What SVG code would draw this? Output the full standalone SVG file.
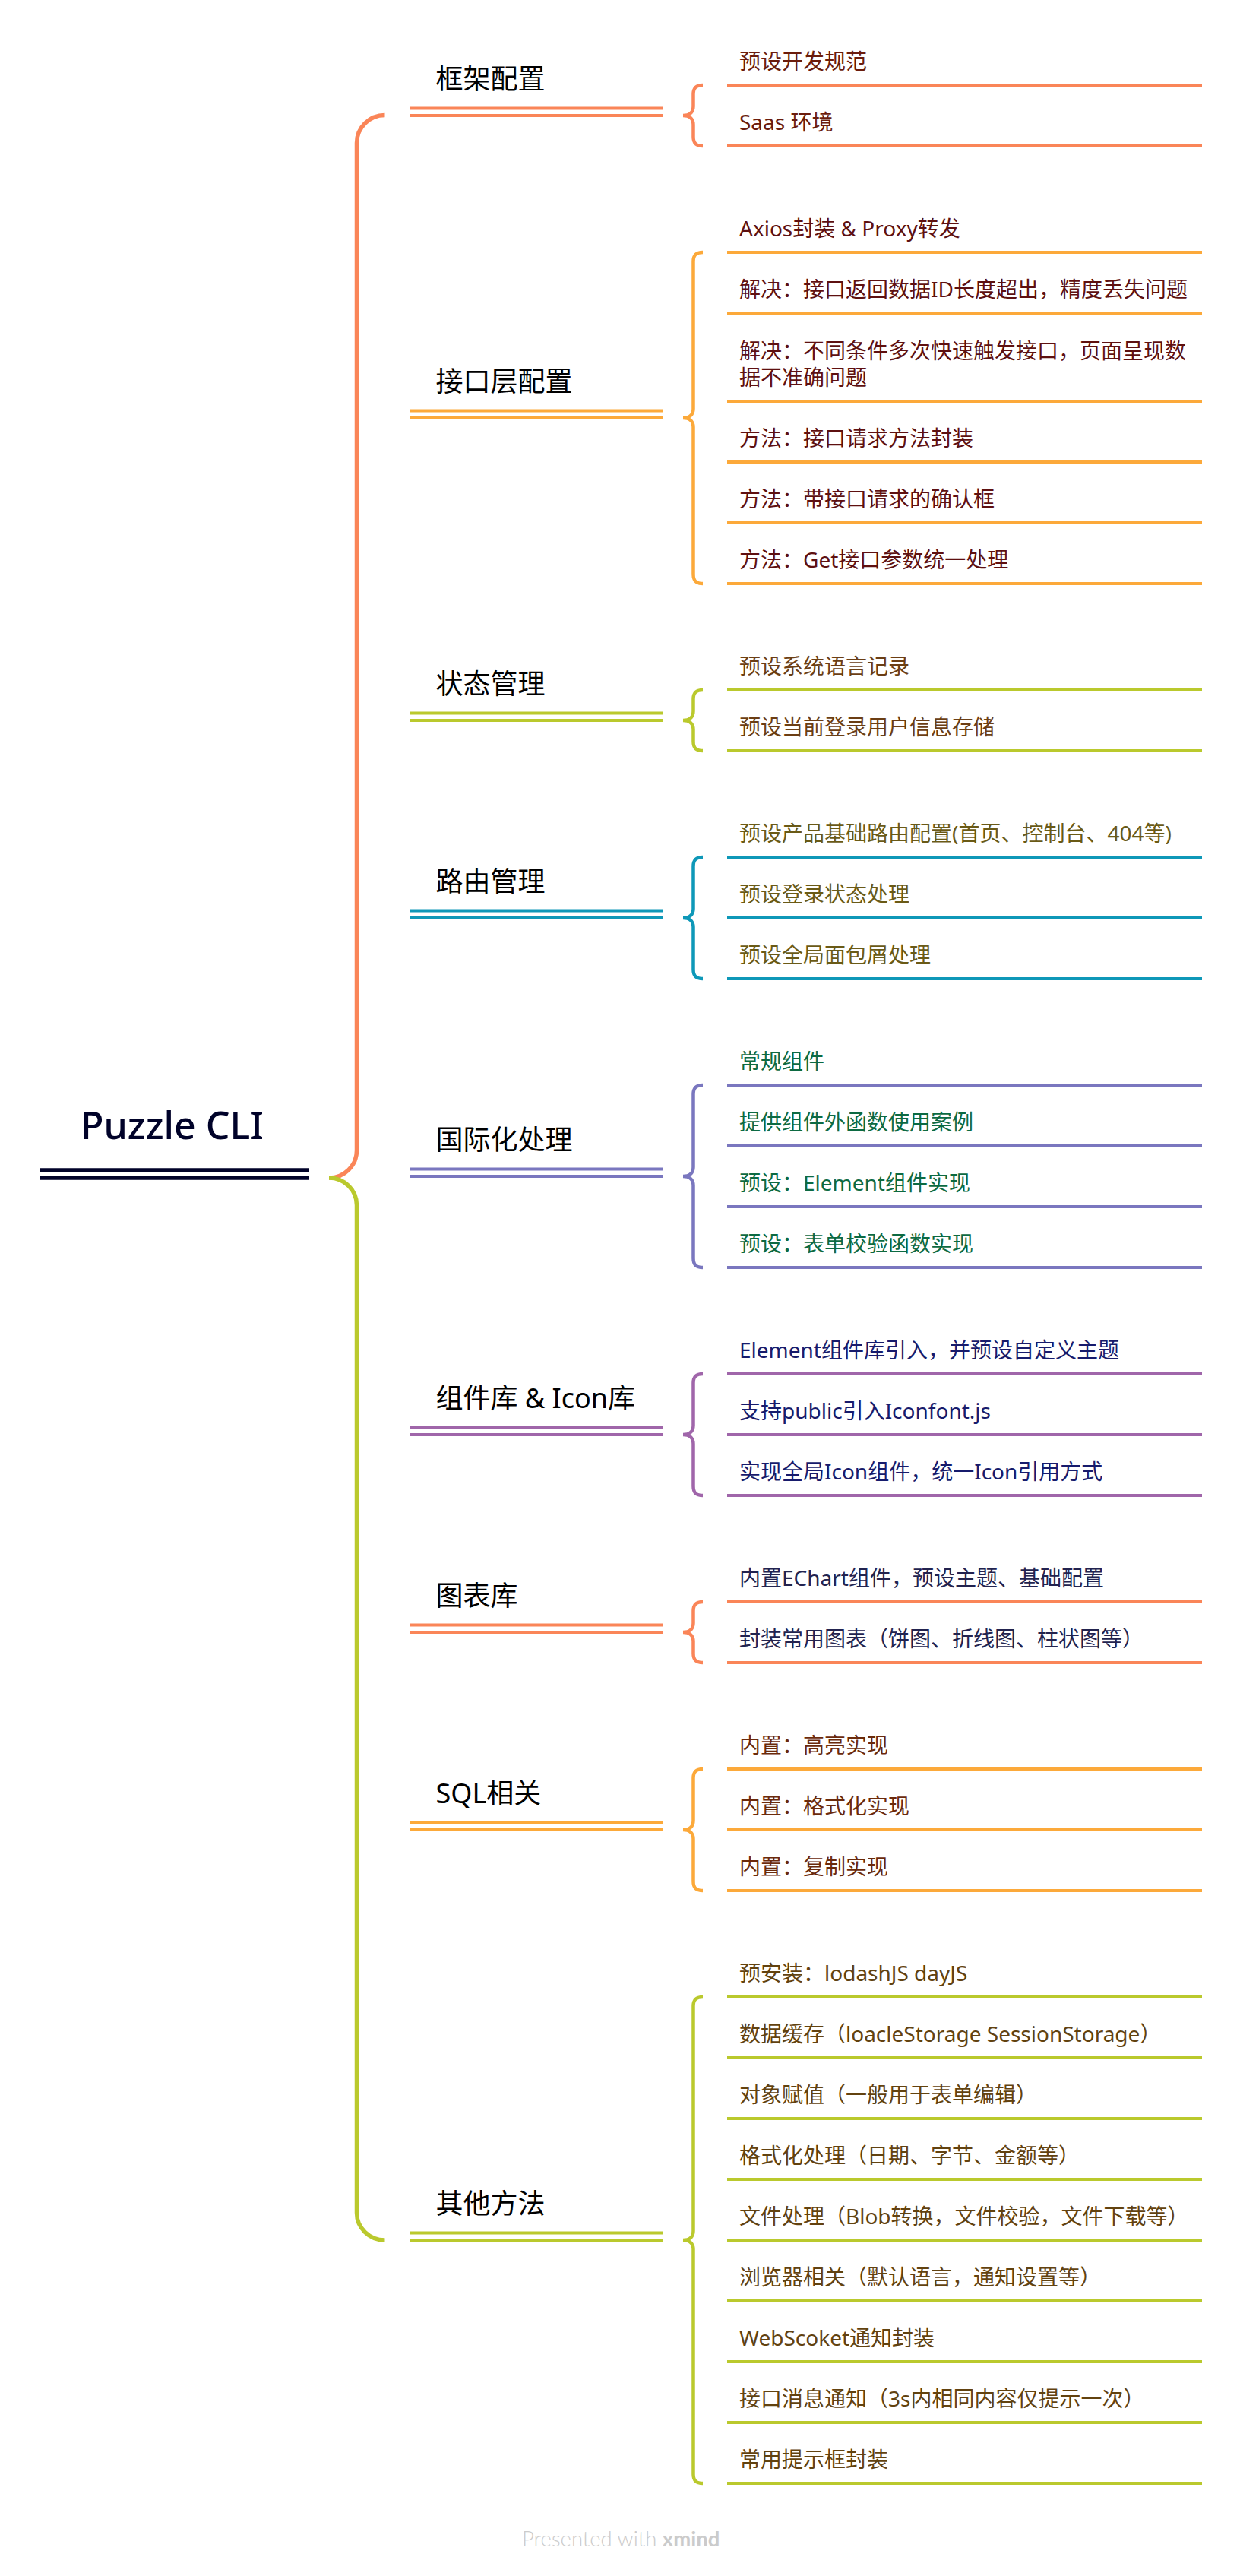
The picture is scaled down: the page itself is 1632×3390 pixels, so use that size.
<svg xmlns="http://www.w3.org/2000/svg" width="1632" height="3390" viewBox="0 0 1632 3390">
<style>
.root{font-family:"Noto Sans","Noto Sans CJK SC",sans-serif;font-size:50px;font-weight:500;fill:#000229}
.title{font-family:"Noto Sans","Noto Sans CJK SC",sans-serif;font-size:36px;fill:#000}
.leaf{font-family:"Noto Sans","Noto Sans CJK SC",sans-serif;font-size:28px}
.foot{font-family:Lato,"Noto Sans",sans-serif;font-size:27.5px;fill:#cbcbcb;font-weight:300}
.ln{fill:none;stroke-width:4;stroke-linecap:butt}
.br{fill:none;stroke-width:4.5;stroke-linecap:butt}
.main{fill:none;stroke-width:5.5;stroke-linecap:butt}
.c1{stroke:#FA8558}.c2{stroke:#FCA93A}.c3{stroke:#BAC92D}.c4{stroke:#0E98B8}.c5{stroke:#7A77BF}.c6{stroke:#A066AA}
.t1{fill:#6B1C0C}.t2{fill:#5E1010}.t3{fill:#6B3E14}.t4{fill:#6A5A16}.t5{fill:#0C6A42}.t6{fill:#171B6C}.t7{fill:#22234F}.t8{fill:#6B2A0B}.t9{fill:#62420F}
</style>
<rect width="1632" height="3390" fill="#ffffff"/>

<g id="connectors">
  <path class="main c1" d="M506.5,151.5 A37,36.5 0 0 0 469.5,188 V1514 A36.5,36 0 0 1 433,1550"/>
  <path class="main c3" d="M433,1550 A36.5,36 0 0 1 469.5,1586 V2912 A37,36 0 0 0 506.5,2948"/>
  <path class="br c1" d="M925,112 C917,112 912.5,115 912.5,124 V140 C912.5,148 907,152 899,152 C907,152 912.5,156 912.5,164 V180 C912.5,189 917,192 925,192"/>
  <path class="br c2" d="M925,332 C917,332 912.5,335 912.5,344 V538 C912.5,546 907,550 899,550 C907,550 912.5,554 912.5,562 V756 C912.5,765 917,768 925,768"/>
  <path class="br c3" d="M925,908 C917,908 912.5,911 912.5,920 V936 C912.5,944 907,948 899,948 C907,948 912.5,952 912.5,960 V976 C912.5,985 917,988 925,988"/>
  <path class="br c4" d="M925,1128 C917,1128 912.5,1131 912.5,1140 V1196 C912.5,1204 907,1208 899,1208 C907,1208 912.5,1212 912.5,1220 V1276 C912.5,1285 917,1288 925,1288"/>
  <path class="br c5" d="M925,1428 C917,1428 912.5,1431 912.5,1440 V1536 C912.5,1544 907,1548 899,1548 C907,1548 912.5,1552 912.5,1560 V1656 C912.5,1665 917,1668 925,1668"/>
  <path class="br c6" d="M925,1808 C917,1808 912.5,1811 912.5,1820 V1876 C912.5,1884 907,1888 899,1888 C907,1888 912.5,1892 912.5,1900 V1956 C912.5,1965 917,1968 925,1968"/>
  <path class="br c1" d="M925,2108 C917,2108 912.5,2111 912.5,2120 V2136 C912.5,2144 907,2148 899,2148 C907,2148 912.5,2152 912.5,2160 V2176 C912.5,2185 917,2188 925,2188"/>
  <path class="br c2" d="M925,2328 C917,2328 912.5,2331 912.5,2340 V2396 C912.5,2404 907,2408 899,2408 C907,2408 912.5,2412 912.5,2420 V2476 C912.5,2485 917,2488 925,2488"/>
  <path class="br c3" d="M925,2628 C917,2628 912.5,2631 912.5,2640 V2936 C912.5,2944 907,2948 899,2948 C907,2948 912.5,2952 912.5,2960 V3256 C912.5,3265 917,3268 925,3268"/>
</g>

<g id="root">
  <text class="root" x="106" y="1499">Puzzle CLI</text>
  <line x1="53" y1="1540" x2="407" y2="1540" stroke="#000229" stroke-width="5.5"/>
  <line x1="53" y1="1550" x2="407" y2="1550" stroke="#000229" stroke-width="5.5"/>
</g>

<g id="branch-1">
  <text class="title" x="573.5" y="117.3">框架配置</text>
  <line class="ln c1" x1="540" y1="142.5" x2="873" y2="142.5"/><line class="ln c1" x1="540" y1="152" x2="873" y2="152"/>
  <g id="leaf-1-1"><text class="leaf t1" x="973" y="91">预设开发规范</text><line class="ln c1" x1="957" y1="112" x2="1582" y2="112"/></g>
  <g id="leaf-1-2"><text class="leaf t1" x="973" y="171">Saas 环境</text><line class="ln c1" x1="957" y1="192" x2="1582" y2="192"/></g>
</g>

<g id="branch-2">
  <text class="title" x="573.5" y="515.3">接口层配置</text>
  <line class="ln c2" x1="540" y1="540.5" x2="873" y2="540.5"/><line class="ln c2" x1="540" y1="550" x2="873" y2="550"/>
  <g id="leaf-2-1"><text class="leaf t2" x="973" y="311">Axios封装 &amp; Proxy转发</text><line class="ln c2" x1="957" y1="332" x2="1582" y2="332"/></g>
  <g id="leaf-2-2"><text class="leaf t2" x="973" y="391">解决：接口返回数据ID长度超出，精度丢失问题</text><line class="ln c2" x1="957" y1="412" x2="1582" y2="412"/></g>
  <g id="leaf-2-3"><text class="leaf t2" x="973" y="471.5">解决：不同条件多次快速触发接口，页面呈现数<tspan x="973" y="507">据不准确问题</tspan></text><line class="ln c2" x1="957" y1="528" x2="1582" y2="528"/></g>
  <g id="leaf-2-4"><text class="leaf t2" x="973" y="587">方法：接口请求方法封装</text><line class="ln c2" x1="957" y1="608" x2="1582" y2="608"/></g>
  <g id="leaf-2-5"><text class="leaf t2" x="973" y="667">方法：带接口请求的确认框</text><line class="ln c2" x1="957" y1="688" x2="1582" y2="688"/></g>
  <g id="leaf-2-6"><text class="leaf t2" x="973" y="747">方法：Get接口参数统一处理</text><line class="ln c2" x1="957" y1="768" x2="1582" y2="768"/></g>
</g>

<g id="branch-3">
  <text class="title" x="573.5" y="913.3">状态管理</text>
  <line class="ln c3" x1="540" y1="938.5" x2="873" y2="938.5"/><line class="ln c3" x1="540" y1="948" x2="873" y2="948"/>
  <g id="leaf-3-1"><text class="leaf t3" x="973" y="887">预设系统语言记录</text><line class="ln c3" x1="957" y1="908" x2="1582" y2="908"/></g>
  <g id="leaf-3-2"><text class="leaf t3" x="973" y="967">预设当前登录用户信息存储</text><line class="ln c3" x1="957" y1="988" x2="1582" y2="988"/></g>
</g>

<g id="branch-4">
  <text class="title" x="573.5" y="1173.3">路由管理</text>
  <line class="ln c4" x1="540" y1="1198.5" x2="873" y2="1198.5"/><line class="ln c4" x1="540" y1="1208" x2="873" y2="1208"/>
  <g id="leaf-4-1"><text class="leaf t4" x="973" y="1107">预设产品基础路由配置(首页、控制台、404等)</text><line class="ln c4" x1="957" y1="1128" x2="1582" y2="1128"/></g>
  <g id="leaf-4-2"><text class="leaf t4" x="973" y="1187">预设登录状态处理</text><line class="ln c4" x1="957" y1="1208" x2="1582" y2="1208"/></g>
  <g id="leaf-4-3"><text class="leaf t4" x="973" y="1267">预设全局面包屑处理</text><line class="ln c4" x1="957" y1="1288" x2="1582" y2="1288"/></g>
</g>

<g id="branch-5">
  <text class="title" x="573.5" y="1513.3">国际化处理</text>
  <line class="ln c5" x1="540" y1="1538.5" x2="873" y2="1538.5"/><line class="ln c5" x1="540" y1="1548" x2="873" y2="1548"/>
  <g id="leaf-5-1"><text class="leaf t5" x="973" y="1407">常规组件</text><line class="ln c5" x1="957" y1="1428" x2="1582" y2="1428"/></g>
  <g id="leaf-5-2"><text class="leaf t5" x="973" y="1487">提供组件外函数使用案例</text><line class="ln c5" x1="957" y1="1508" x2="1582" y2="1508"/></g>
  <g id="leaf-5-3"><text class="leaf t5" x="973" y="1567">预设：Element组件实现</text><line class="ln c5" x1="957" y1="1588" x2="1582" y2="1588"/></g>
  <g id="leaf-5-4"><text class="leaf t5" x="973" y="1647">预设：表单校验函数实现</text><line class="ln c5" x1="957" y1="1668" x2="1582" y2="1668"/></g>
</g>

<g id="branch-6">
  <text class="title" x="573.5" y="1853.3">组件库 &amp; Icon库</text>
  <line class="ln c6" x1="540" y1="1878.5" x2="873" y2="1878.5"/><line class="ln c6" x1="540" y1="1888" x2="873" y2="1888"/>
  <g id="leaf-6-1"><text class="leaf t6" x="973" y="1787">Element组件库引入，并预设自定义主题</text><line class="ln c6" x1="957" y1="1808" x2="1582" y2="1808"/></g>
  <g id="leaf-6-2"><text class="leaf t6" x="973" y="1867">支持public引入Iconfont.js</text><line class="ln c6" x1="957" y1="1888" x2="1582" y2="1888"/></g>
  <g id="leaf-6-3"><text class="leaf t6" x="973" y="1947">实现全局Icon组件，统一Icon引用方式</text><line class="ln c6" x1="957" y1="1968" x2="1582" y2="1968"/></g>
</g>

<g id="branch-7">
  <text class="title" x="573.5" y="2113.3">图表库</text>
  <line class="ln c1" x1="540" y1="2138.5" x2="873" y2="2138.5"/><line class="ln c1" x1="540" y1="2148" x2="873" y2="2148"/>
  <g id="leaf-7-1"><text class="leaf t7" x="973" y="2087">内置EChart组件，预设主题、基础配置</text><line class="ln c1" x1="957" y1="2108" x2="1582" y2="2108"/></g>
  <g id="leaf-7-2"><text class="leaf t7" x="973" y="2167">封装常用图表（饼图、折线图、柱状图等）</text><line class="ln c1" x1="957" y1="2188" x2="1582" y2="2188"/></g>
</g>

<g id="branch-8">
  <text class="title" x="573.5" y="2373.3">SQL相关</text>
  <line class="ln c2" x1="540" y1="2398.5" x2="873" y2="2398.5"/><line class="ln c2" x1="540" y1="2408" x2="873" y2="2408"/>
  <g id="leaf-8-1"><text class="leaf t8" x="973" y="2307">内置：高亮实现</text><line class="ln c2" x1="957" y1="2328" x2="1582" y2="2328"/></g>
  <g id="leaf-8-2"><text class="leaf t8" x="973" y="2387">内置：格式化实现</text><line class="ln c2" x1="957" y1="2408" x2="1582" y2="2408"/></g>
  <g id="leaf-8-3"><text class="leaf t8" x="973" y="2467">内置：复制实现</text><line class="ln c2" x1="957" y1="2488" x2="1582" y2="2488"/></g>
</g>

<g id="branch-9">
  <text class="title" x="573.5" y="2913.3">其他方法</text>
  <line class="ln c3" x1="540" y1="2938.5" x2="873" y2="2938.5"/><line class="ln c3" x1="540" y1="2948" x2="873" y2="2948"/>
  <g id="leaf-9-1"><text class="leaf t9" x="973" y="2607">预安装：lodashJS dayJS</text><line class="ln c3" x1="957" y1="2628" x2="1582" y2="2628"/></g>
  <g id="leaf-9-2"><text class="leaf t9" x="973" y="2687">数据缓存（loacleStorage SessionStorage）</text><line class="ln c3" x1="957" y1="2708" x2="1582" y2="2708"/></g>
  <g id="leaf-9-3"><text class="leaf t9" x="973" y="2767">对象赋值（一般用于表单编辑）</text><line class="ln c3" x1="957" y1="2788" x2="1582" y2="2788"/></g>
  <g id="leaf-9-4"><text class="leaf t9" x="973" y="2847">格式化处理（日期、字节、金额等）</text><line class="ln c3" x1="957" y1="2868" x2="1582" y2="2868"/></g>
  <g id="leaf-9-5"><text class="leaf t9" x="973" y="2927">文件处理（Blob转换，文件校验，文件下载等）</text><line class="ln c3" x1="957" y1="2948" x2="1582" y2="2948"/></g>
  <g id="leaf-9-6"><text class="leaf t9" x="973" y="3007">浏览器相关（默认语言，通知设置等）</text><line class="ln c3" x1="957" y1="3028" x2="1582" y2="3028"/></g>
  <g id="leaf-9-7"><text class="leaf t9" x="973" y="3087">WebScoket通知封装</text><line class="ln c3" x1="957" y1="3108" x2="1582" y2="3108"/></g>
  <g id="leaf-9-8"><text class="leaf t9" x="973" y="3167">接口消息通知（3s内相同内容仅提示一次）</text><line class="ln c3" x1="957" y1="3188" x2="1582" y2="3188"/></g>
  <g id="leaf-9-9"><text class="leaf t9" x="973" y="3247">常用提示框封装</text><line class="ln c3" x1="957" y1="3268" x2="1582" y2="3268"/></g>
</g>

<g id="footer">
  <text class="foot" x="687" y="3351">Presented with <tspan font-weight="700">xmind</tspan></text>
</g>
</svg>
